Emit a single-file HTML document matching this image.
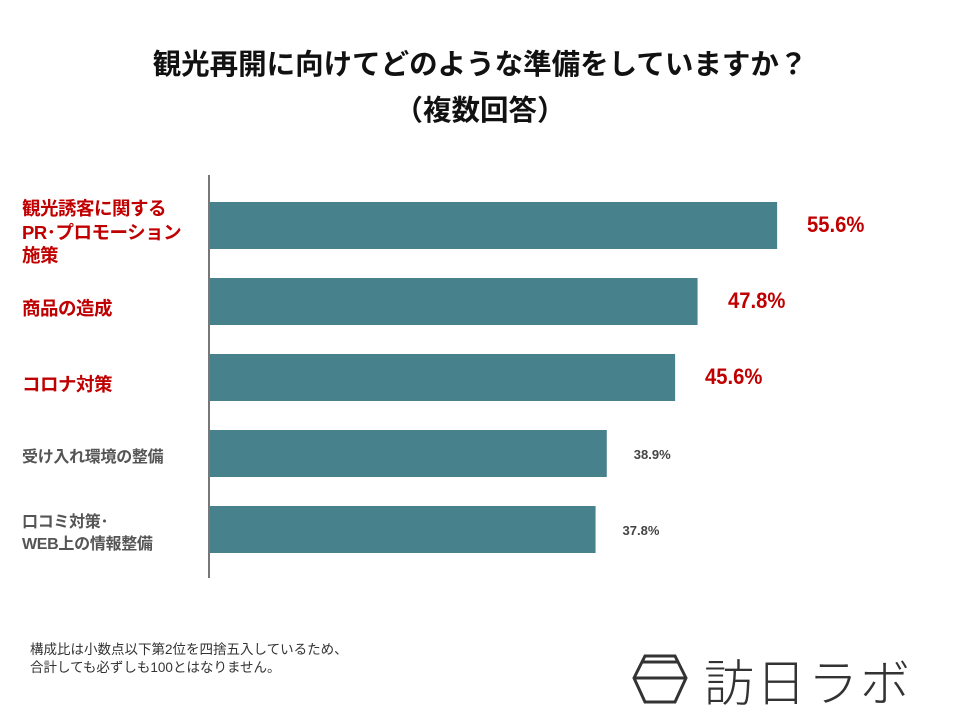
<!DOCTYPE html>
<html><head><meta charset="utf-8"><style>
body{margin:0;width:960px;height:720px;background:#fff;position:relative;overflow:hidden;font-family:"Liberation Sans","Noto Sans CJK JP",sans-serif}
.t{position:absolute;left:0;width:960px;text-align:center;font-weight:bold;font-size:28.5px;color:#111}
.lab{position:absolute;left:22px;font-weight:bold;white-space:nowrap}
.red{color:#c00000;font-size:18.5px;line-height:23.5px;letter-spacing:-0.5px}
.gray{color:#555;font-size:16px;line-height:22px;letter-spacing:-0.3px}
.val{position:absolute;font-weight:bold}
</style></head><body>
<div class="t" style="top:42px">観光再開に向けてどのような準備をしていますか？</div>
<div class="t" style="top:88px">（複数回答）</div>
<svg id="chart" width="960" height="720" style="position:absolute;left:0;top:0"></svg>
<div id="labels"></div>
<div style="position:absolute;left:30px;top:641px;font-size:13.5px;line-height:18px;color:#333">構成比は小数点以下第2位を四捨五入しているため、<br>合計しても必ずしも100とはなりません。</div>
<svg style="position:absolute;left:630px;top:652px" width="60" height="56"><g fill="none" stroke="#333" stroke-width="3"><polygon points="15,4 45,4 56,26 45,50 15,50 4,26"/><line x1="13" y1="10" x2="47" y2="10"/><line x1="4" y1="26" x2="56" y2="26"/></g></svg>
<div style="position:absolute;left:704px;top:644px;font-size:50px;letter-spacing:2px;color:#333;font-weight:300;font-family:'Noto Sans CJK JP',sans-serif">訪日ラボ</div>
<script>
const categories=["観光誘客に関する<br>PR･プロモーション<br>施策","商品の造成","コロナ対策","受け入れ環境の整備","口コミ対策･<br>WEB上の情報整備"];
const values=[55.6,47.8,45.6,38.9,37.8];
const highlight=[true,true,true,false,false];
const x0=210,pxPer=10.2,rowTop=202,pitch=76,barH=47;
const xs=v=>x0+v*pxPer;
const svg=document.getElementById('chart');
const ns='http://www.w3.org/2000/svg';
const ax=document.createElementNS(ns,'line');
ax.setAttribute('x1',209);ax.setAttribute('x2',209);ax.setAttribute('y1',175);ax.setAttribute('y2',578);
ax.setAttribute('stroke','#777');ax.setAttribute('stroke-width','2');


svg.appendChild(ax);
const L=document.getElementById('labels');
values.forEach((v,i)=>{
 const y=rowTop+i*pitch;
 const r=document.createElementNS(ns,'rect');
 r.setAttribute('x',x0);r.setAttribute('y',y);r.setAttribute('width',xs(v)-x0);r.setAttribute('height',barH);r.setAttribute('fill','#47818b');
 
 
 svg.appendChild(r);
 const d=document.createElement('div');
 d.className='lab '+(highlight[i]?'red':'gray');
 d.innerHTML=categories[i];
 
 
 L.appendChild(d);
 const lines=categories[i].split('<br>').length;
 const lh=highlight[i]?23.5:22;
 d.style.top=(y+barH/2-lines*lh/2+(highlight[i]?7:4))+'px';
 const t=document.createElement('div');
 t.className='val';
 t.textContent=v.toFixed(1)+'%';
 
 
 if(highlight[i]){t.style.cssText+='color:#c00000;font-size:22px;transform:scaleX(0.92);transform-origin:left';t.style.left=(xs(v)+30)+'px';t.style.top=(y+10)+'px';}
 else{t.style.cssText+='color:#444;font-size:13px';t.style.left=(xs(v)+27)+'px';t.style.top=(y+17)+'px';}
 L.appendChild(t);
});
</script>
</body></html>
